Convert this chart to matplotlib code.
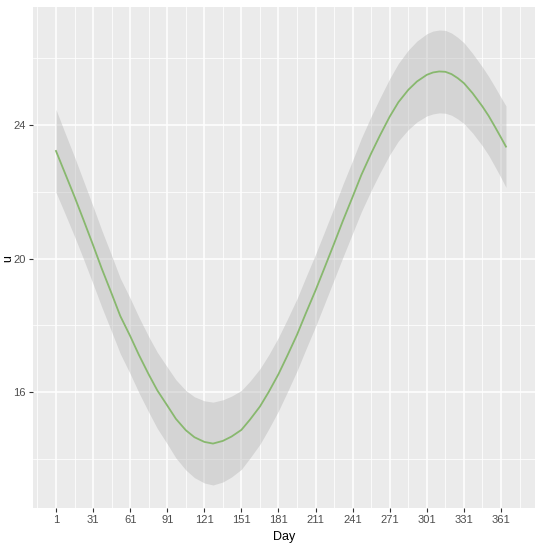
import matplotlib
matplotlib.use("Agg")
import matplotlib.pyplot as plt
import numpy as np

plt.rcParams['font.family'] = ['Liberation Sans', 'DejaVu Sans']

# smooth fit of u over day of year
days = [1, 8, 16, 23, 31, 38, 46, 53, 61, 68, 76, 83, 91, 98, 106, 113, 121,
        128, 136, 143, 151, 158, 166, 173, 181, 188, 196, 203, 211, 218, 226,
        233, 241, 248, 256, 263, 271, 278, 286, 293, 301, 306, 311, 316, 321,
        326, 331, 338, 346, 351, 356, 361, 365]
u_fit = [23.22, 22.58, 21.85, 21.18, 20.40, 19.70, 18.95, 18.28, 17.68, 17.12,
         16.53, 16.05, 15.60, 15.20, 14.86, 14.65, 14.51, 14.46, 14.54, 14.67,
         14.87, 15.18, 15.57, 16.00, 16.54, 17.08, 17.72, 18.35, 19.05, 19.70,
         20.45, 21.12, 21.85, 22.50, 23.15, 23.68, 24.25, 24.68, 25.05, 25.30,
         25.50, 25.57, 25.60, 25.59, 25.52, 25.40, 25.25, 24.95, 24.55, 24.27,
         23.95, 23.62, 23.35]
# half width of the grey confidence band
u_band = [1.24, 1.21, 1.19, 1.17, 1.16, 1.15, 1.14, 1.13, 1.13, 1.13, 1.13,
          1.14, 1.15, 1.17, 1.19, 1.21, 1.23, 1.24, 1.23, 1.21, 1.18, 1.15,
          1.13, 1.11, 1.10, 1.09, 1.08, 1.08, 1.08, 1.08, 1.08, 1.09, 1.09,
          1.10, 1.11, 1.12, 1.14, 1.16, 1.19, 1.21, 1.23, 1.24, 1.24, 1.24,
          1.23, 1.22, 1.21, 1.19, 1.18, 1.18, 1.19, 1.20, 1.22]

x_ticks = [1, 31, 61, 91, 121, 151, 181, 211, 241, 271, 301, 331, 361]
x_minor = [-14, 16, 46, 76, 106, 136, 166, 196, 226, 256, 286, 316, 346, 376]
y_ticks = [16, 20, 24]
y_minor = [14, 18, 22, 26]

fit = np.array(u_fit)
band = np.array(u_band)

fig = plt.figure(figsize=(5.45, 5.5), dpi=100)
ax = fig.add_axes([33 / 545, 1 - 507.7 / 550, 502 / 545, 500.7 / 550])
ax.set_facecolor('#EBEBEB')
for s in ax.spines.values():
    s.set_visible(False)

ax.set_xlim(-17.6, 388.5)
ax.set_ylim(12.54, 27.53)
ax.set_xticks(x_ticks)
ax.set_xticks(x_minor, minor=True)
ax.set_yticks(y_ticks)
ax.set_yticks(y_minor, minor=True)
ax.grid(True, which='major', color='white', linewidth=1.1)
ax.grid(True, which='minor', color='white', linewidth=0.55)
ax.set_axisbelow(True)
ax.tick_params(which='major', length=3, width=0.8, color='#333333',
               labelsize=8, labelcolor='#4D4D4D', pad=2)
ax.tick_params(which='minor', length=0)

ax.fill_between(days, fit - band, fit + band, color='#B2B2B2', alpha=0.4,
                linewidth=0, zorder=2)
ax.plot(days, fit, color='#88B86E', linewidth=1.3, zorder=3)

# axis titles placed like the ggplot original
fig.text(284 / 545, 1 - 537 / 550, 'Day', fontsize=9, ha='center', va='center')
fig.text(8 / 545, 1 - 259 / 550, 'u', fontsize=9, rotation=90,
         ha='center', va='center')

fig.savefig('out.png', dpi=100)
